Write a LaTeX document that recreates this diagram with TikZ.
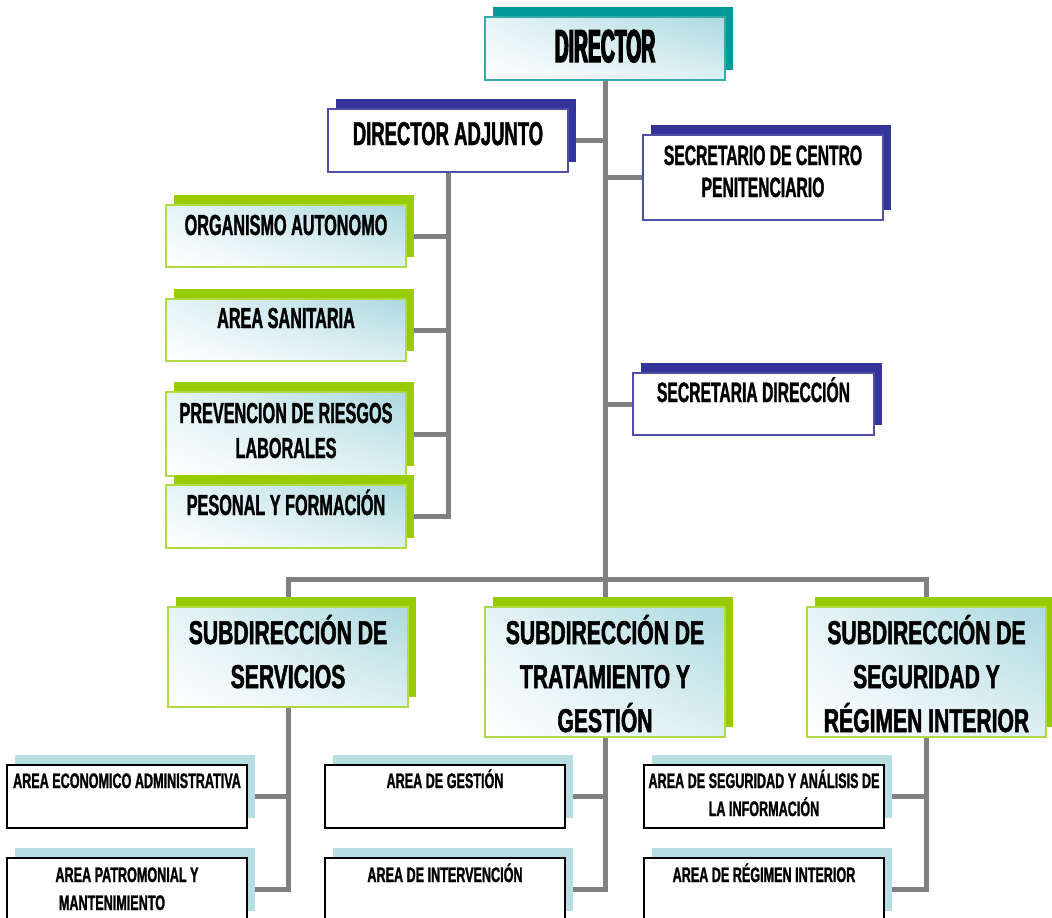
\documentclass[tikz,border=0pt]{standalone}
\usepackage{fontspec}
\setmainfont{Liberation Sans}
\newfontfamily\fdir{Liberation Sans}[FakeStretch=0.42,FakeBold=3]
\newfontfamily\fmid{Liberation Sans}[FakeStretch=0.56,FakeBold=1.2]
\newfontfamily\fsub{Liberation Sans}[FakeStretch=0.64,FakeBold=1.5]
\newfontfamily\fbot{Liberation Sans}[FakeStretch=0.6,FakeBold=1.2]
\usetikzlibrary{shadows,shadings,backgrounds}
\definecolor{lineg}{HTML}{808080}
\definecolor{tealS}{HTML}{009999}
\definecolor{tealB}{HTML}{33A9A9}
\definecolor{blueS}{HTML}{333399}
\definecolor{blueB}{HTML}{4F4FA8}
\definecolor{greenS}{HTML}{99CC00}
\definecolor{greenB}{HTML}{B0DA45}
\definecolor{lblue}{HTML}{B7DEE3}
\definecolor{gradc}{HTML}{ACD9E0}
\newcommand\bx[4]{\parbox[b][#2][t]{#1}{\centering\rule{0pt}{#3}#4\par}}
\begin{document}
\begin{tikzpicture}[x=1pt,y=-1pt,
  lnk/.style={draw=lineg, line width=5pt},
  nb/.style={inner sep=0pt, outer sep=0pt, anchor=north west, line width=2pt, text=black},
  gradfill/.style={upper left=white!70!gradc, upper right=gradc, lower left=white, lower right=white!60!gradc},
  sh/.style={general shadow={fill=#1, shadow xshift=8pt, shadow yshift=10pt}},
  tealbox/.style={nb, draw=tealB, gradfill, sh=tealS},
  bluebox/.style={nb, draw=blueB, fill=white, sh=blueS},
  greenbox/.style={nb, draw=greenB, gradfill, sh=greenS},
  areabox/.style={nb, draw=black, fill=white, sh=lblue},
  fdirs/.style={font=\fdir\bfseries\fontsize{46}{50}\selectfont},
  fadj/.style={font=\fmid\bfseries\fontsize{33}{38}\selectfont},
  fsec/.style={font=\fmid\bfseries\fontsize{28}{32}\selectfont},
  fgrp/.style={font=\fmid\bfseries\fontsize{29}{35}\selectfont},
  fsubs/.style={font=\fsub\bfseries\fontsize{33}{44}\selectfont},
  fbots/.style={font=\fbot\bfseries\fontsize{21}{28}\selectfont},
]
\useasboundingbox (0,0) rectangle (1052,918);

% top level
\node[tealbox, fdirs] (dir) at (485,17) {\bx{240pt}{63pt}{45pt}{DIRECTOR}};
\node[bluebox, fadj] (adj) at (328,109) {\bx{240pt}{63pt}{36pt}{DIRECTOR ADJUNTO}};
\node[bluebox, fsec] (sec) at (643,135) {\bx{240pt}{85pt}{30pt}{SECRETARIO DE CENTRO\\PENITENCIARIO}};
\node[bluebox, fsec] (sdir) at (633,373) {\bx{241pt}{62pt}{29pt}{SECRETARIA DIRECCIÓN}};

% left group
\node[greenbox, fgrp] (org) at (166,205) {\bx{240pt}{62pt}{30pt}{ORGANISMO AUTONOMO}};
\node[greenbox, fgrp] (san) at (166,299) {\bx{240pt}{62pt}{29pt}{AREA SANITARIA}};
\node[greenbox, fgrp] (prev) at (166,392) {\bx{240pt}{84pt}{31pt}{PREVENCION DE RIESGOS\\LABORALES}};
\node[greenbox, fgrp] (pes) at (166,485) {\bx{240pt}{63pt}{30pt}{PESONAL Y FORMACIÓN}};

% subdirecciones
\node[greenbox, fsubs] (serv) at (168,607) {\bx{240pt}{100pt}{37pt}{SUBDIRECCIÓN DE\\SERVICIOS}};
\node[greenbox, fsubs] (trat) at (485,607) {\bx{240pt}{130pt}{37pt}{SUBDIRECCIÓN DE\\TRATAMIENTO Y\\GESTIÓN}};
\node[greenbox, fsubs] (seg) at (807,607) {\bx{239pt}{130pt}{37pt}{SUBDIRECCIÓN DE\\SEGURIDAD Y\\RÉGIMEN INTERIOR}};

% areas
\node[areabox, fbots] (econ) at (7,765) {\bx{240pt}{63pt}{23pt}{AREA ECONOMICO ADMINISTRATIVA}};
\node[areabox, fbots] (patr) at (7,858) {\bx{240pt}{63pt}{24pt}{AREA PATROMONIAL Y\\MANTENIMIENTO\kern30pt}};
\node[areabox, fbots] (gest) at (325,765) {\bx{240pt}{63pt}{23pt}{AREA DE GESTIÓN}};
\node[areabox, fbots] (inter) at (325,858) {\bx{240pt}{63pt}{24pt}{AREA DE INTERVENCIÓN}};
\node[areabox, fbots] (asea) at (644,765) {\bx{240pt}{63pt}{23pt}{AREA DE SEGURIDAD Y ANÁLISIS DE\\LA INFORMACIÓN}};
\node[areabox, fbots] (regi) at (644,858) {\bx{240pt}{63pt}{24pt}{AREA DE RÉGIMEN INTERIOR}};

\coordinate (bus) at (605,579);

\begin{pgfonlayer}{background}
\fill[white] (0,0) rectangle (1052,918);
\draw[lnk] (dir.south) -- (trat.north);
\draw[lnk] (adj.east) -- (adj.east -| dir.south);
\draw[lnk] (sec.west) -- (sec.west -| dir.south);
\draw[lnk] (sdir.west) -- (sdir.west -| dir.south);
\draw[lnk] (adj.south) |- (pes.east);
\draw[lnk] (org.east) -- (org.east -| adj.south);
\draw[lnk] (san.east) -- (san.east -| adj.south);
\draw[lnk] (prev.east) -- (prev.east -| adj.south);
\draw[lnk] (serv.north) |- (bus) -| (seg.north);
\draw[lnk] (serv.south) |- (patr.east);
\draw[lnk] (econ.east) -- (econ.east -| serv.south);
\draw[lnk] (trat.south) |- (inter.east);
\draw[lnk] (gest.east) -- (gest.east -| trat.south);
\draw[lnk] (seg.south) |- (regi.east);
\draw[lnk] (asea.east) -- (asea.east -| seg.south);
\end{pgfonlayer}
\end{tikzpicture}
\end{document}
